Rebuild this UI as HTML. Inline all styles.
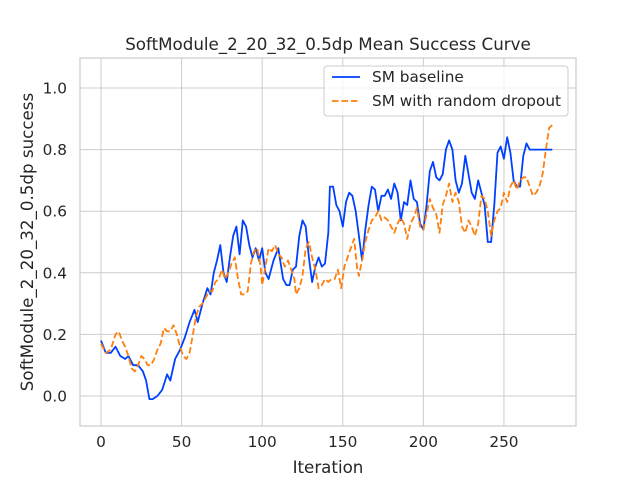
<!DOCTYPE html>
<html><head><meta charset="utf-8"><style>
body{margin:0;background:#fff;}
svg{display:block;font-family:"DejaVu Sans","Liberation Sans",sans-serif;}
</style></head><body>
<svg id="chart" width="640" height="480">
<rect width="640" height="480" fill="#fff"/>
<g id="grid"></g>
<rect x="80" y="58" width="496" height="368" fill="none" stroke="#ccc" stroke-width="1.2"/>
<g id="ticks" font-size="15.3" fill="#262626"></g>
<g id="series"></g>
<text x="328" y="50" text-anchor="middle" font-size="16.7" fill="#262626">SoftModule_2_20_32_0.5dp Mean Success Curve</text>
<text x="328" y="473" text-anchor="middle" font-size="16.7" fill="#262626">Iteration</text>
<text transform="translate(33,242) rotate(-90)" text-anchor="middle" font-size="16.7" fill="#262626">SoftModule_2_20_32_0.5dp success</text>
<g>
<rect x="324" y="66" width="244" height="50" rx="3" fill="#fff" fill-opacity="0.8" stroke="#ccc"/>
<g>
<line x1="332" y1="77" x2="360" y2="77" stroke="#0040ff" stroke-width="1.8"/>
<text x="372" y="82" font-size="15.3" fill="#262626">SM baseline</text></g>
<g>
<line x1="332" y1="101" x2="360" y2="101" stroke="#ff7f0e" stroke-width="1.8" stroke-dasharray="6.5,3"/>
<text x="372" y="106" font-size="15.3" fill="#262626">SM with random dropout</text></g>
</g>
</svg>
<script>
const xTicks=[0,50,100,150,200,250];
const yTicks=[0.0,0.2,0.4,0.6,0.8,1.0];
const baseIter=[0,3,6,9,12,15,17,20,23,26,28,30,32,35,38,41,43,46,49,52,55,58,60,63,66,68,70,72,74,76,78,80,82,84,86,88,90,92,94,96,98,100,102,104,107,110,113,115,117,119,121,123,125,127,129,131,133,135,137,139,141,142,144,146,148,150,152,154,156,158,160,162,164,166,168,170,172,174,176,178,180,182,184,186,188,190,192,194,196,198,200,202,204,206,208,210,212,214,216,218,220,222,224,226,228,230,232,234,236,238,240,242,244,246,248,250,252,254,256,258,260,262,264,266,280];
const baseVals=[0.18,0.14,0.14,0.16,0.13,0.12,0.13,0.10,0.10,0.08,0.05,-0.01,-0.01,0.00,0.02,0.07,0.05,0.12,0.15,0.19,0.24,0.28,0.24,0.30,0.35,0.33,0.40,0.44,0.49,0.40,0.37,0.45,0.52,0.55,0.46,0.57,0.55,0.49,0.45,0.48,0.44,0.48,0.40,0.38,0.44,0.48,0.38,0.36,0.36,0.41,0.42,0.52,0.57,0.55,0.45,0.37,0.42,0.45,0.42,0.43,0.53,0.68,0.68,0.62,0.60,0.55,0.63,0.66,0.65,0.60,0.52,0.44,0.54,0.62,0.68,0.67,0.60,0.65,0.65,0.67,0.64,0.69,0.66,0.57,0.63,0.62,0.70,0.64,0.63,0.56,0.54,0.62,0.73,0.76,0.71,0.70,0.72,0.80,0.83,0.80,0.70,0.66,0.69,0.78,0.72,0.66,0.64,0.70,0.66,0.62,0.50,0.50,0.62,0.79,0.81,0.77,0.84,0.79,0.70,0.68,0.68,0.78,0.82,0.80,0.80];
const dropIter=[0,3,6,9,11,13,15,17,19,21,23,25,27,29,31,33,35,37,39,41,43,45,47,49,51,53,55,57,59,61,63,65,67,69,71,73,75,77,79,81,83,85,87,89,91,93,95,97,99,100,102,104,106,108,110,112,114,116,118,120,121,123,125,127,129,131,133,135,137,139,141,143,145,147,149,151,153,155,157,159,160,162,164,166,168,170,172,174,176,178,180,182,184,186,188,190,192,194,196,198,200,202,204,206,208,210,212,214,216,218,220,222,224,226,228,230,232,234,236,238,240,242,244,246,248,250,252,254,256,258,260,262,264,266,268,270,272,274,276,278,280];
const dropVals=[0.17,0.14,0.15,0.20,0.21,0.18,0.16,0.13,0.09,0.08,0.10,0.13,0.12,0.10,0.10,0.12,0.15,0.17,0.22,0.21,0.21,0.23,0.20,0.16,0.13,0.12,0.14,0.20,0.26,0.29,0.30,0.32,0.34,0.34,0.37,0.38,0.41,0.38,0.40,0.43,0.45,0.38,0.33,0.33,0.34,0.43,0.47,0.48,0.42,0.36,0.42,0.48,0.47,0.49,0.46,0.45,0.42,0.44,0.41,0.38,0.33,0.35,0.39,0.48,0.50,0.45,0.41,0.35,0.36,0.38,0.37,0.38,0.38,0.41,0.35,0.42,0.45,0.48,0.51,0.41,0.39,0.44,0.50,0.54,0.57,0.58,0.60,0.57,0.58,0.57,0.55,0.53,0.56,0.58,0.56,0.51,0.56,0.58,0.61,0.55,0.54,0.59,0.64,0.61,0.59,0.53,0.62,0.65,0.69,0.63,0.66,0.63,0.55,0.53,0.57,0.55,0.52,0.56,0.65,0.64,0.60,0.52,0.57,0.60,0.61,0.66,0.63,0.68,0.70,0.67,0.70,0.71,0.71,0.68,0.65,0.66,0.68,0.72,0.80,0.87,0.88];
const NS='http://www.w3.org/2000/svg';
function xs(v){return 101+(v)*1.6118;}
function ys(v){return 396-v*308;}
const grid=document.getElementById('grid'),ticks=document.getElementById('ticks'),series=document.getElementById('series');
xTicks.forEach(t=>{
 const l=document.createElementNS(NS,'line');
 l.setAttribute('x1',xs(t));l.setAttribute('x2',xs(t));l.setAttribute('y1',58);l.setAttribute('y2',426);
 l.setAttribute('stroke','#ccc');l.setAttribute('stroke-width','1');
 
 
 grid.appendChild(l);
 const tx=document.createElementNS(NS,'text');
 tx.setAttribute('x',xs(t));tx.setAttribute('y',447);tx.setAttribute('text-anchor','middle');tx.textContent=t;
 
 
 ticks.appendChild(tx);
});
yTicks.forEach(t=>{
 const l=document.createElementNS(NS,'line');
 l.setAttribute('x1',80);l.setAttribute('x2',576);l.setAttribute('y1',ys(t));l.setAttribute('y2',ys(t));
 l.setAttribute('stroke','#ccc');l.setAttribute('stroke-width','1');
 
 
 grid.appendChild(l);
 const tx=document.createElementNS(NS,'text');
 tx.setAttribute('x',67);tx.setAttribute('y',ys(t)+5.5);tx.setAttribute('text-anchor','end');tx.textContent=t.toFixed(1);
 
 
 ticks.appendChild(tx);
});
function line(it,vals,color,dash,name){
 const p=document.createElementNS(NS,'polyline');
 p.setAttribute('points',it.map((x,i)=>xs(x).toFixed(1)+','+ys(vals[i]).toFixed(1)).join(' '));
 p.setAttribute('fill','none');p.setAttribute('stroke',color);p.setAttribute('stroke-width','1.8');
 p.setAttribute('stroke-linejoin','round');
 if(dash)p.setAttribute('stroke-dasharray',dash);
 
 
 series.appendChild(p);
}
line(baseIter,baseVals,'#0040ff',null,'baseline-line');
line(dropIter,dropVals,'#ff7f0e','6.5,3','dropout-line');
</script>
</body></html>
